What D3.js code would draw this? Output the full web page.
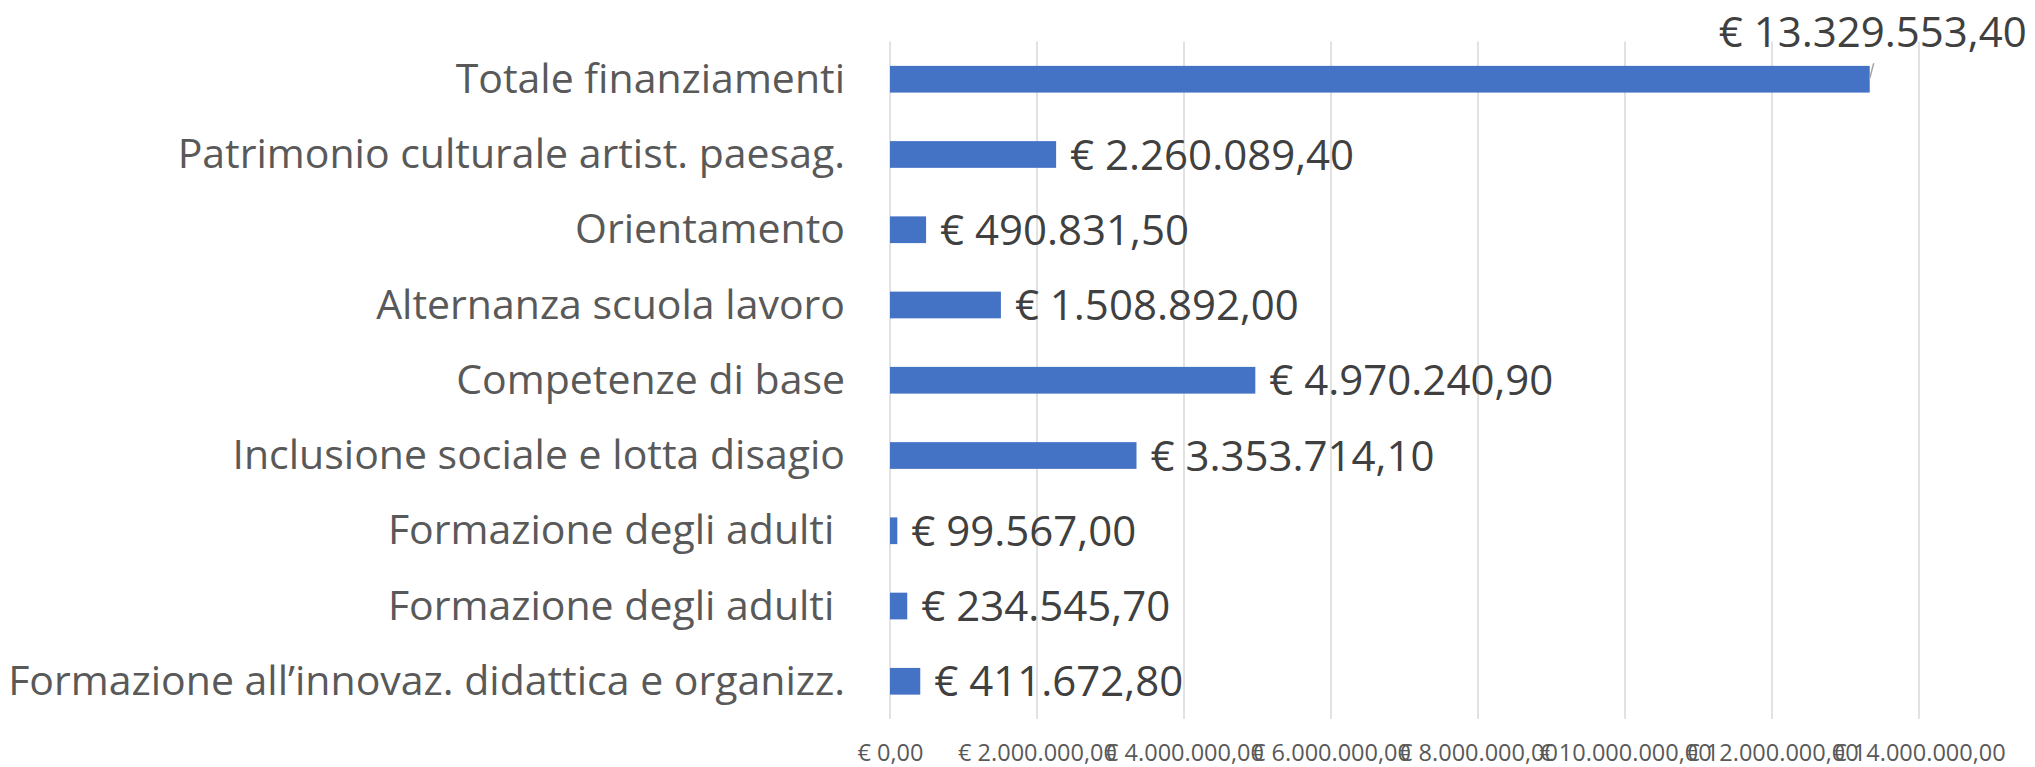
<!DOCTYPE html>
<html>
<head>
<meta charset="utf-8">
<script src="https://cdn.jsdelivr.net/npm/d3@7"></script>
<style>
  html, body { margin: 0; padding: 0; background: #fff; }
  svg { display: block; }
  text { white-space: pre; }
</style>
</head>
<body>
<svg id="chart" width="2035" height="767"></svg>
<script>
const categories = [
  "Totale finanziamenti",
  "Patrimonio culturale artist. paesag.",
  "Orientamento",
  "Alternanza scuola lavoro",
  "Competenze di base",
  "Inclusione sociale e lotta disagio",
  "Formazione degli adulti ",
  "Formazione degli adulti ",
  "Formazione all\u2019innovaz. didattica e organizz."
];
const values = [13329553.40, 2260089.40, 490831.50, 1508892.00, 4970240.90, 3353714.10, 99567.00, 234545.70, 411672.80];
const tickValues = [0, 2000000, 4000000, 6000000, 8000000, 10000000, 12000000, 14000000];

const it = d3.formatLocale({decimal: ",", thousands: ".", grouping: [3], currency: ["\u20ac ", ""]});
const fmt = it.format("$,.2f");

const svg = d3.select("#chart");
const font = "'Open Sans', sans-serif";

const x = d3.scaleLinear().domain([0, 14000000]).range([890, 1919]);
const y = d3.scaleBand().domain(d3.range(categories.length)).range([41.6, 718.9])
  .paddingInner(0.645).paddingOuter(0.3225);

// gridlines
svg.append("g").selectAll("line").data(tickValues).join("line")
  .attr("x1", d => x(d)).attr("x2", d => x(d))
  .attr("y1", y.range()[0]).attr("y2", y.range()[1])
  .attr("stroke", "#d9d9d9").attr("stroke-width", 1.5);

// x axis tick labels
const xAxis = d3.axisBottom(x).tickValues(tickValues).tickFormat(fmt).tickSize(0);
const gx = svg.append("g").attr("transform", "translate(0,744)").call(xAxis);
gx.select(".domain").remove();
gx.selectAll("text").attr("font-family", font).attr("font-size", 23.5).attr("fill", "#595959").attr("dy", "0.71em").attr("y", 0);

// bars
svg.append("g").selectAll("rect").data(values).join("rect")
  .attr("x", x(0)).attr("y", (d, i) => y(i))
  .attr("width", d => x(d) - x(0)).attr("height", y.bandwidth())
  .attr("fill", "#4472c4");

// category labels
svg.append("g").selectAll("text").data(categories).join("text")
  .attr("x", 845).attr("y", (d, i) => y(i) + y.bandwidth() / 2)
  .attr("dy", "0.33em").attr("text-anchor", "end")
  .attr("font-family", font).attr("font-size", 41).attr("fill", "#595959")
  .text(d => d);

// value labels
const maxIdx = values.indexOf(d3.max(values));
svg.append("g").selectAll("text").data(values).join("text")
  .attr("x", (d, i) => i === maxIdx ? x(d) + 3 : x(d) + 14)
  .attr("y", (d, i) => i === maxIdx ? y(i) + y.bandwidth() / 2 - 32 : y(i) + y.bandwidth() / 2)
  .attr("dy", (d, i) => i === maxIdx ? "0" : "0.36em")
  .attr("text-anchor", (d, i) => i === maxIdx ? "middle" : "start")
  .attr("font-family", font).attr("font-size", 42).attr("fill", "#404040")
  .text(d => fmt(d));

// leader line for top label
svg.append("line")
  .attr("x1", x(values[maxIdx])).attr("y1", y(maxIdx) + y.bandwidth() / 2 - 1)
  .attr("x2", x(values[maxIdx]) + 4).attr("y2", y(maxIdx) + y.bandwidth() / 2 - 16)
  .attr("stroke", "#a6a6a6").attr("stroke-width", 1.5);
</script>
</body>
</html>
